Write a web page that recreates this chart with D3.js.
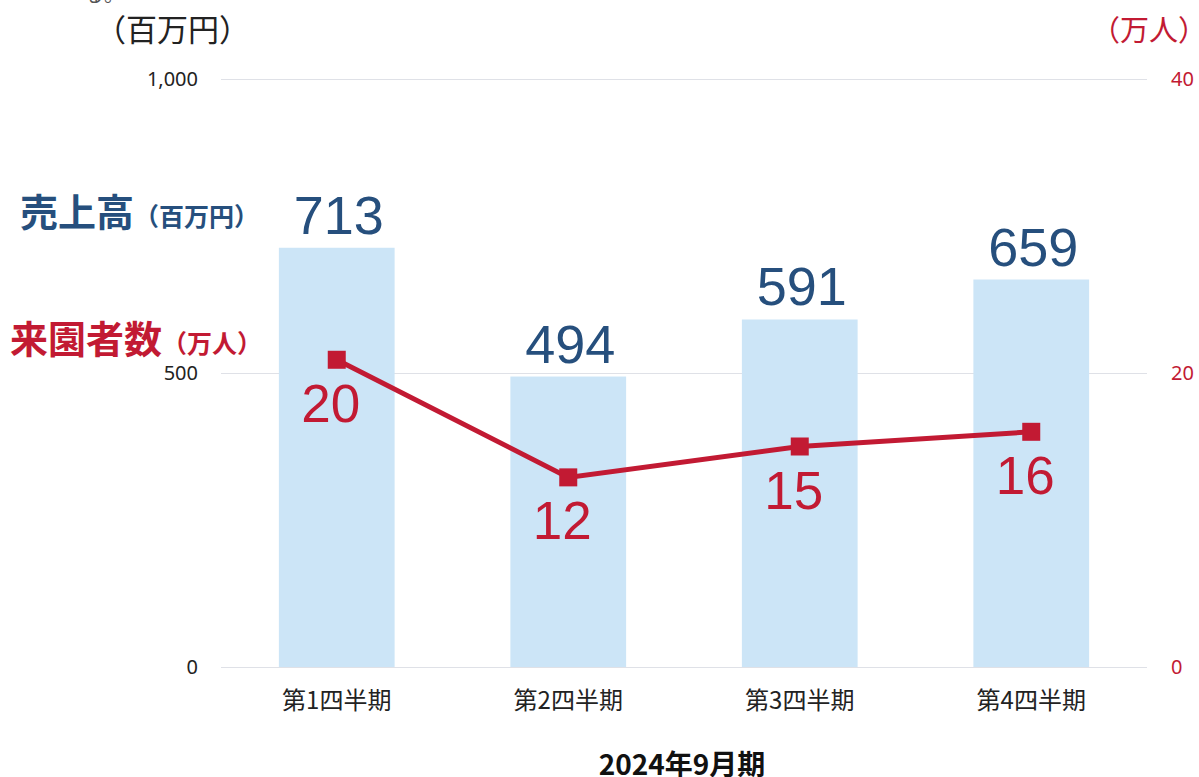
<!DOCTYPE html>
<html>
<head>
<meta charset="utf-8">
<script src="https://cdn.jsdelivr.net/npm/d3@7"></script>
<style>
  body { margin: 0; background: #fff; }
  text { font-family: "Noto Sans CJK JP", "Noto Sans", sans-serif; }
  .num { font-family: "Liberation Sans", Arial, sans-serif; }
</style>
</head>
<body>
<script>
// data
var quarters = ["第1四半期", "第2四半期", "第3四半期", "第4四半期"];
var sales = [713, 494, 591, 659];            // 売上高 (百万円)
var visitors = [20.9, 12.9, 15.0, 16.0];     // 来園者数 (万人), plotted positions
var visitorLabels = ["20", "12", "15", "16"];
var leftTicks = [0, 500, 1000];
var rightTicks = [0, 20, 40];

var W = 1199, H = 777;
var blue = "#264f7d", red = "#c21a33", barFill = "#cce5f7", grid = "#dfe1e7";

var svg = d3.select("body").append("svg")
    .attr("width", W)
    .attr("height", H);

var x = d3.scaleBand()
    .domain(quarters)
    .range([221, 1147])
    .paddingInner(0.5)
    .paddingOuter(0.25);

var yL = d3.scaleLinear().domain([0, 1000]).range([667, 79]);
var yR = d3.scaleLinear().domain([0, 40]).range([667, 79]);

// gridlines
svg.append("g").selectAll("line")
    .data(leftTicks)
  .enter().append("line")
    .attr("x1", 221).attr("x2", 1147)
    .attr("y1", function(d) { return yL(d) + 0.5; })
    .attr("y2", function(d) { return yL(d) + 0.5; })
    .attr("stroke", grid)
    .attr("stroke-width", 1.2);

// left axis
var leftAxis = svg.append("g")
    .attr("transform", "translate(198,0)")
    .call(d3.axisLeft(yL).tickValues(leftTicks).tickSize(0).tickPadding(0).tickFormat(d3.format(",")));
leftAxis.select(".domain").remove();
leftAxis.selectAll("text")
    .style("font-family", "'Noto Sans', sans-serif")
    .style("font-size", "20px")
    .attr("fill", "#222");

// right axis
var rightAxis = svg.append("g")
    .attr("transform", "translate(1171,0)")
    .call(d3.axisRight(yR).tickValues(rightTicks).tickSize(0).tickPadding(0));
rightAxis.select(".domain").remove();
rightAxis.selectAll("text")
    .style("font-family", "'Noto Sans', sans-serif")
    .style("font-size", "20px")
    .attr("fill", red);

// bars
svg.append("g").selectAll("rect")
    .data(sales)
  .enter().append("rect")
    .attr("x", function(d, i) { return x(quarters[i]); })
    .attr("y", function(d) { return yL(d); })
    .attr("width", x.bandwidth())
    .attr("height", function(d) { return yL(0) - yL(d); })
    .attr("fill", barFill);

// bar value labels
svg.append("g").selectAll("text")
    .data(sales)
  .enter().append("text")
    .attr("class", "num")
    .attr("x", function(d, i) { return x(quarters[i]) + x.bandwidth() / 2 + 2; })
    .attr("y", function(d) { return yL(d) - 14; })
    .attr("text-anchor", "middle")
    .attr("font-size", 54)
    .attr("fill", blue)
    .text(function(d) { return d; });

// visitors line
var cx = function(d, i) { return x(quarters[i]) + x.bandwidth() / 2; };
var line = d3.line()
    .x(function(d, i) { return cx(d, i); })
    .y(function(d) { return yR(d); });

svg.append("path")
    .datum(visitors)
    .attr("d", line)
    .attr("fill", "none")
    .attr("stroke", red)
    .attr("stroke-width", 5);

svg.append("g").selectAll("rect")
    .data(visitors)
  .enter().append("rect")
    .attr("x", function(d, i) { return cx(d, i) - 9; })
    .attr("y", function(d) { return yR(d) - 9; })
    .attr("width", 18)
    .attr("height", 18)
    .attr("fill", red);

svg.append("g").selectAll("text")
    .data(visitors)
  .enter().append("text")
    .attr("class", "num")
    .attr("x", function(d, i) { return cx(d, i) - 6; })
    .attr("y", function(d) { return yR(d) + 62; })
    .attr("text-anchor", "middle")
    .attr("font-size", 53)
    .attr("fill", red)
    .text(function(d, i) { return visitorLabels[i]; });

// x category labels
svg.append("g").selectAll("text")
    .data(quarters)
  .enter().append("text")
    .attr("x", function(d) { return x(d) + x.bandwidth() / 2; })
    .attr("y", 709)
    .attr("text-anchor", "middle")
    .attr("font-size", 24)
    .attr("fill", "#222")
    .text(function(d) { return d; });

svg.append("text")
    .attr("x", 682).attr("y", 775)
    .attr("text-anchor", "middle")
    .attr("font-size", 28)
    .attr("font-weight", "bold")
    .attr("fill", "#111")
    .text("2024年9月期");

// unit labels
svg.append("text")
    .attr("x", 95).attr("y", 41)
    .attr("font-size", 31)
    .attr("fill", "#222")
    .text("（百万円）");

svg.append("text")
    .attr("x", 1207).attr("y", 41)
    .attr("text-anchor", "end")
    .attr("font-size", 29)
    .attr("fill", red)
    .text("（万人）");

// clipped text at the very top
svg.append("text")
    .attr("x", 84).attr("y", 2)
    .attr("font-size", 20)
    .attr("fill", "#555")
    .text("る。");

// legend labels
var lg1 = svg.append("text").attr("x", 20).attr("y", 226).attr("font-weight", "bold").attr("fill", blue);
lg1.append("tspan").attr("font-size", 38).text("売上高");
lg1.append("tspan").attr("font-size", 25).text("（百万円）");

var lg2 = svg.append("text").attr("x", 10).attr("y", 353).attr("font-weight", "bold").attr("fill", red);
lg2.append("tspan").attr("font-size", 38).text("来園者数");
lg2.append("tspan").attr("font-size", 25).text("（万人）");
</script>
</body>
</html>
